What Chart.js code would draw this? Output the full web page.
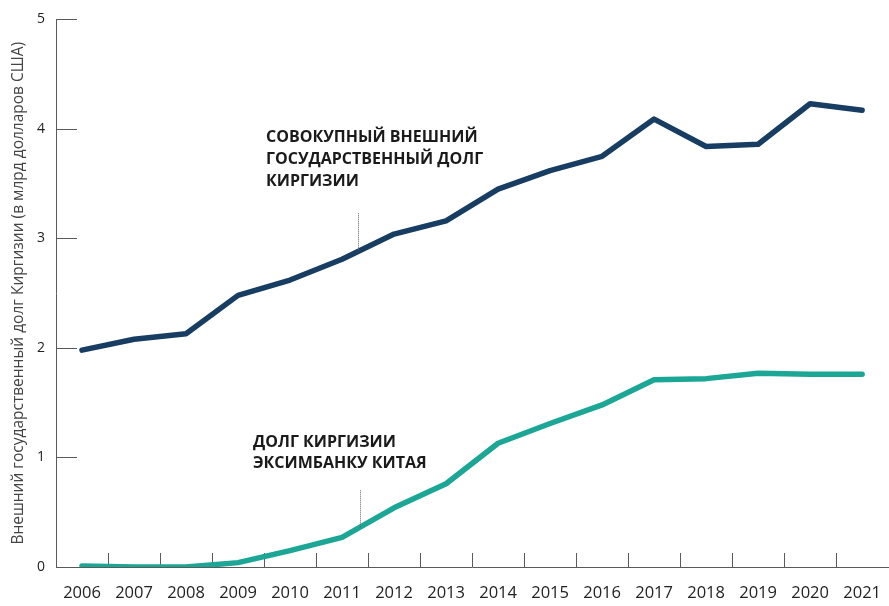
<!DOCTYPE html>
<html>
<head>
<meta charset="utf-8">
<script src="https://cdn.jsdelivr.net/npm/chart.js@4/dist/chart.umd.min.js"></script>
<style>
html, body { margin: 0; padding: 0; background: #fff; overflow: hidden; }
#wrap { width: 897px; height: 606px; }
</style>
</head>
<body>
<div id="wrap"><canvas id="debtChart"></canvas></div>
<script>
// данные: внешний госдолг Киргизии, млрд долл. США
const years = ['2006','2007','2008','2009','2010','2011','2012','2013','2014','2015','2016','2017','2018','2019','2020','2021'];
const totalDebt = [1.98, 2.08, 2.13, 2.48, 2.62, 2.81, 3.04, 3.16, 3.45, 3.62, 3.75, 4.09, 3.84, 3.86, 4.23, 4.17];
const eximDebt  = [0.01, 0.00, 0.00, 0.04, 0.15, 0.27, 0.54, 0.76, 1.13, 1.31, 1.48, 1.71, 1.72, 1.77, 1.76, 1.76];
const yTicks = [0, 1, 2, 3, 4, 5];
const totalLabel = ['СОВОКУПНЫЙ ВНЕШНИЙ', 'ГОСУДАРСТВЕННЫЙ ДОЛГ', 'КИРГИЗИИ'];
const eximLabel = ['ДОЛГ КИРГИЗИИ', 'ЭКСИМБАНКУ КИТАЯ'];

const NAVY = '#173d63', TEAL = '#1ba696', AXIS = '#5a5a5a';

// засечки внутрь области графика
const axisMarks = {
    id: 'axisMarks',
    beforeDatasetsDraw(chart) {
        const { ctx, scales: { x, y }, chartArea: a } = chart;
        ctx.save();
        ctx.strokeStyle = AXIS; ctx.lineWidth = 1;
        yTicks.forEach(v => {
            if (v === 0) return;
            const py = Math.round(y.getPixelForValue(v)) + 0.5;
            ctx.beginPath(); ctx.moveTo(a.left, py); ctx.lineTo(a.left + 21, py); ctx.stroke();
        });
        for (let i = 0; i < years.length - 1; i++) {
            const px = Math.round((x.getPixelForValue(i) + x.getPixelForValue(i + 1)) / 2) + 0.5;
            ctx.beginPath(); ctx.moveTo(px, a.bottom); ctx.lineTo(px, a.bottom - 14); ctx.stroke();
        }
        ctx.restore();
    }
};

// подписи линий и пунктирные выноски
const notes = {
    id: 'notes',
    afterDatasetsDraw(chart) {
        const { ctx, scales: { x, y } } = chart;
        const at = (arr, i, t) => arr[i] + (arr[i + 1] - arr[i]) * t;
        const leader = (arr, t, top) => {
            const px = Math.round(x.getPixelForValue(5) + (x.getPixelForValue(6) - x.getPixelForValue(5)) * t) + 0.5;
            ctx.beginPath();
            ctx.moveTo(px, y.getPixelForValue(top));
            ctx.lineTo(px, y.getPixelForValue(at(arr, 5, t)));
            ctx.stroke();
        };
        ctx.save();
        ctx.strokeStyle = '#666'; ctx.lineWidth = 1; ctx.setLineDash([1, 1]);
        leader(totalDebt, 0.31, 3.23);
        leader(eximDebt, 0.34, 0.70);
        ctx.setLineDash([]);
        ctx.fillStyle = '#1a1a1a';
        ctx.font = 'bold 16px "Open Sans"';
        ctx.textBaseline = 'alphabetic';
        totalLabel.forEach((s, i) => ctx.fillText(s, 266, 142 + i * 22));
        eximLabel.forEach((s, i) => ctx.fillText(s, 253, 447 + i * 21));
        ctx.restore();
    }
};

new Chart(document.getElementById('debtChart'), {
    type: 'line',
    data: {
        labels: years,
        datasets: [
            { data: totalDebt, borderColor: NAVY, borderWidth: 5.5 },
            { data: eximDebt, borderColor: TEAL, borderWidth: 5.5 }
        ]
    },
    options: {
        responsive: true, maintainAspectRatio: false, animation: false,
        layout: { padding: { top: 16, right: 0, bottom: 0, left: 0 } },
        elements: {
            point: { radius: 0 },
            line: { tension: 0, borderCapStyle: 'round', borderJoinStyle: 'round' }
        },
        plugins: { legend: { display: false }, tooltip: { enabled: false } },
        scales: {
            x: {
                offset: true,
                grid: { display: false, drawTicks: false },
                border: { display: true, color: AXIS, width: 1 },
                ticks: { color: '#222', padding: 16, font: { family: 'Open Sans', size: 16.5 }, maxRotation: 0, autoSkip: false },
                afterFit(s) { s.height = 39; }
            },
            y: {
                min: 0, max: 5,
                grid: { display: false, drawTicks: false },
                border: { display: true, color: AXIS, width: 1 },
                ticks: { stepSize: 1, color: '#222', padding: 11, font: { family: 'Open Sans', size: 14 } },
                title: {
                    display: true, color: '#444', padding: { top: 9, bottom: 0 },
                    text: 'Внешний государственный долг Киргизии (в млрд долларов США)',
                    font: { family: 'Open Sans', size: 15.5 }
                },
                afterFit(s) { s.width = 56; }
            }
        }
    },
    plugins: [axisMarks, notes]
});
</script>
</body>
</html>
